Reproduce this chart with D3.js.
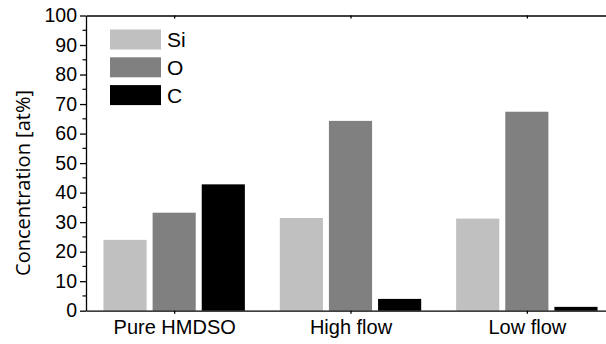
<!DOCTYPE html>
<html><head><meta charset="utf-8">
<script src="https://cdn.jsdelivr.net/npm/d3@7"></script>
<style>body{margin:0;background:#fff}svg{display:block}</style>
</head><body>
<svg id="c" width="606" height="344"></svg>
<script>
const categories = ["Pure HMDSO", "High flow", "Low flow"];
const seriesNames = ["Si", "O", "C"];
const siValues = [24.0, 31.4, 31.2];
const oValues = [33.2, 64.3, 67.4];
const cValues = [42.8, 4.0, 1.3];
const yTicks = [0, 10, 20, 30, 40, 50, 60, 70, 80, 90, 100];
const colors = ["#c0c0c0", "#808080", "#000000"];

(function () {
const series = [siValues, oValues, cValues];
const svg = d3.select("#c");
const mLeft = 86, mRight = 615, mTop = 15.5, mBottom = 310.7;
const x = d3.scalePoint().domain(categories).range([mLeft, mRight]).padding(0.5);
const y = d3.scaleLinear().domain([0, 100]).range([mBottom, mTop]);
const xs = d3.scaleBand().domain(seriesNames).range([-70.7, 70.7]).paddingInner(0.122);
const font = "Liberation Sans, Arial, sans-serif";

// bars
categories.forEach((cat, i) => {
  seriesNames.forEach((s, j) => {
    const v = series[j][i];
    svg.append("rect")
      .attr("x", x(cat) + xs(s))
      .attr("y", y(v))
      .attr("width", xs.bandwidth())
      .attr("height", y(0) - y(v))
      .attr("fill", colors[j]);
  });
});

// y axis
const yAxis = d3.axisLeft(y).tickValues(yTicks).tickSize(6).tickSizeOuter(0).tickPadding(3);
const gy = svg.append("g").attr("transform", `translate(${mLeft},0)`).call(yAxis);
gy.selectAll("text").attr("font-family", font).attr("font-size", 19.5).attr("fill", "#000");
gy.selectAll("line, path").attr("stroke", "#000").attr("stroke-width", 1.3);
// minor ticks
const minor = d3.range(5, 100, 10);
svg.append("g").selectAll("line").data(minor).join("line")
  .attr("x1", mLeft - 3.5).attr("x2", mLeft).attr("y1", d => y(d)).attr("y2", d => y(d))
  .attr("stroke", "#000").attr("stroke-width", 1.2);

// bottom axis
const xAxis = d3.axisBottom(x).tickSize(3).tickSizeOuter(0).tickPadding(6);
const gx = svg.append("g").attr("transform", `translate(0,${mBottom})`).call(xAxis);
gx.selectAll("text").attr("font-family", font).attr("font-size", 20).attr("fill", "#000");
gx.selectAll("line, path").attr("stroke", "#000").attr("stroke-width", 1.3);

// top axis
const xTop = d3.axisBottom(x).tickSize(3).tickSizeOuter(0).tickFormat("");
const gt = svg.append("g").attr("transform", `translate(0,${mTop})`).call(xTop);
gt.selectAll("line, path").attr("stroke", "#000").attr("stroke-width", 1.3);

// y title
svg.append("text")
  .attr("transform", `translate(30,183) rotate(-90)`)
  .attr("text-anchor", "middle")
  .attr("font-family", "Open Sans, sans-serif").attr("font-size", 20)
  .text("Concentration [at%]");

// legend
const legend = svg.append("g");
seriesNames.forEach((s, j) => {
  const yy = 29.5 + j * 27.8;
  legend.append("rect").attr("x", 110).attr("y", yy).attr("width", 51).attr("height", 20).attr("fill", colors[j]);
  legend.append("text").attr("x", 167).attr("y", yy + 17.5)
    .attr("font-family", font).attr("font-size", 21).text(s);
});
})();
</script>
</body></html>
